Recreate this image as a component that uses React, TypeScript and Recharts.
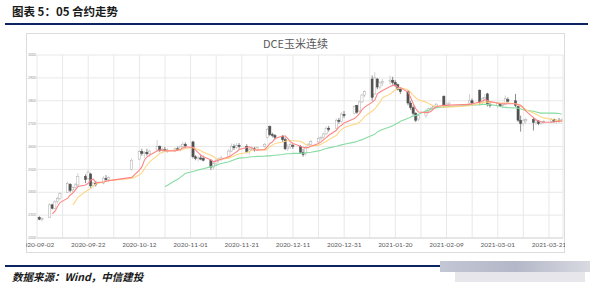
import React from 'react';
import { ComposedChart, Bar, Line, XAxis, YAxis, CartesianGrid } from 'recharts';

const N = null;

const dates = [
  "2020-09-02","2020-09-03","2020-09-04","2020-09-07","2020-09-08","2020-09-09","2020-09-10","2020-09-11","2020-09-14","2020-09-15","2020-09-16","2020-09-17","2020-09-18","2020-09-21","2020-09-22","2020-09-23","2020-09-24","2020-09-25","2020-09-28","2020-09-29","2020-09-30",
  "2020-10-09","2020-10-12","2020-10-13","2020-10-14","2020-10-15","2020-10-16","2020-10-19","2020-10-20","2020-10-21","2020-10-22","2020-10-23","2020-10-26","2020-10-27","2020-10-28","2020-10-29","2020-10-30",
  "2020-11-02","2020-11-03","2020-11-04","2020-11-05","2020-11-06","2020-11-09","2020-11-10","2020-11-11","2020-11-12","2020-11-13","2020-11-16","2020-11-17","2020-11-18","2020-11-19","2020-11-20","2020-11-23","2020-11-24","2020-11-25","2020-11-26","2020-11-27","2020-11-30",
  "2020-12-01","2020-12-02","2020-12-03","2020-12-04","2020-12-07","2020-12-08","2020-12-09","2020-12-10","2020-12-11","2020-12-14","2020-12-15","2020-12-16","2020-12-17","2020-12-18","2020-12-21","2020-12-22","2020-12-23","2020-12-24","2020-12-25","2020-12-28","2020-12-29","2020-12-30","2020-12-31",
  "2021-01-04","2021-01-05","2021-01-06","2021-01-07","2021-01-08","2021-01-11","2021-01-12","2021-01-13","2021-01-14","2021-01-15","2021-01-18","2021-01-19","2021-01-20","2021-01-21","2021-01-22","2021-01-25","2021-01-26","2021-01-27","2021-01-28","2021-01-29",
  "2021-02-01","2021-02-02","2021-02-03","2021-02-04","2021-02-05","2021-02-08","2021-02-09","2021-02-10","2021-02-18","2021-02-19","2021-02-22","2021-02-23","2021-02-24","2021-02-25","2021-02-26",
  "2021-03-01","2021-03-02","2021-03-03","2021-03-04","2021-03-05","2021-03-08","2021-03-09","2021-03-10","2021-03-11","2021-03-12","2021-03-15","2021-03-16","2021-03-17","2021-03-18","2021-03-19","2021-03-22","2021-03-23","2021-03-24","2021-03-25","2021-03-26",
];

const openP = [
  2285,2290,2282,2290,2345,2330,2360,2372,2400,2435,2410,2420,2432,2470,2460,2480,2430,2440,2440,2460,2455,
  2500,2545,2578,2570,2575,2568,2585,2600,2582,2588,2580,2585,2590,2585,2600,2610,
  2620,2555,2548,2550,2548,2540,2510,2525,2540,2545,2555,2580,2600,2595,2605,2600,2580,2588,2590,2585,2600,
  2640,2688,2652,2648,2645,2630,2590,2598,2605,2600,2575,2568,2595,2610,2620,2635,2640,2655,2680,2680,2715,2710,2740,
  2745,2780,2755,2795,2825,2895,2830,2895,2860,2878,2885,2890,2880,2870,2850,2840,2790,2770,2745,2720,
  2735,2755,2765,2768,2775,2820,2780,2785,2790,2800,2845,2795,2808,2830,2785,
  2780,2785,2780,2785,2805,2800,2775,2715,2700,2712,2718,2705,2712,2700,2708,2710,2718,2710,2715,2712,
];
const highP = [
  2292,2295,2290,2352,2350,2365,2380,2400,2446,2440,2425,2440,2483,2478,2497,2485,2445,2450,2470,2475,2470,
  2548,2584,2590,2580,2590,2585,2628,2605,2595,2598,2592,2595,2600,2605,2620,2618,
  2625,2562,2560,2565,2560,2545,2530,2545,2552,2560,2590,2613,2610,2615,2615,2610,2595,2600,2598,2600,2615,
  2680,2692,2660,2655,2650,2640,2610,2615,2612,2606,2590,2600,2615,2628,2642,2645,2660,2688,2690,2722,2725,2750,2755,
  2780,2782,2800,2830,2845,2910,2925,2900,2885,2895,2910,2905,2890,2875,2860,2845,2800,2780,2750,2740,
  2765,2770,2775,2780,2790,2823,2795,2795,2830,2810,2850,2815,2830,2835,2795,
  2795,2790,2790,2823,2815,2830,2780,2735,2720,2725,2729,2722,2715,2712,2715,2725,2722,2720,2725,2722,
];
const lowP = [
  2275,2278,2272,2288,2325,2328,2350,2365,2398,2400,2398,2410,2428,2440,2455,2417,2420,2425,2435,2448,2445,
  2495,2540,2560,2550,2560,2555,2580,2575,2570,2575,2572,2575,2580,2578,2590,2595,
  2548,2540,2535,2540,2535,2497,2500,2515,2530,2535,2550,2575,2585,2590,2590,2570,2565,2580,2578,2580,2595,
  2635,2645,2640,2630,2620,2584,2580,2590,2590,2570,2555,2560,2590,2605,2615,2625,2635,2650,2665,2675,2700,2705,2725,
  2740,2743,2750,2790,2815,2800,2825,2850,2850,2865,2870,2870,2860,2845,2830,2780,2760,2735,2707,2710,
  2725,2745,2755,2760,2765,2770,2770,2775,2785,2780,2780,2785,2800,2775,2770,
  2770,2772,2770,2780,2790,2772,2707,2665,2690,2700,2670,2695,2693,2695,2700,2702,2705,2700,2705,2704,
];
const closeP = [
  2288,2282,2285,2345,2330,2358,2372,2395,2438,2408,2420,2432,2470,2455,2488,2428,2440,2435,2462,2455,2465,
  2540,2578,2570,2575,2568,2580,2600,2582,2588,2580,2585,2590,2585,2598,2610,2602,
  2555,2548,2550,2545,2540,2510,2525,2540,2545,2550,2580,2600,2595,2605,2600,2578,2588,2592,2585,2595,2610,
  2675,2652,2648,2640,2630,2590,2598,2608,2600,2575,2565,2595,2610,2622,2635,2640,2655,2680,2675,2715,2710,2742,2735,
  2775,2750,2795,2825,2840,2815,2900,2860,2878,2885,2890,2880,2870,2850,2840,2790,2770,2745,2715,2735,
  2755,2765,2768,2775,2785,2780,2785,2790,2800,2790,2795,2808,2815,2785,2780,
  2788,2778,2785,2810,2798,2780,2715,2700,2712,2718,2705,2712,2700,2708,2710,2718,2710,2715,2712,2716,
];

const ma5 = [
  N,N,N,N,2306,2316,2338,2355,2374,2388,2396,2410,2425,2432,2439,2454,2457,2442,2445,2448,2451,
  2465,2497,2512,2541,2555,2562,2581,2584,2584,2584,2581,2581,2584,2587,2594,2599,
  2596,2584,2573,2562,2555,2541,2533,2536,2541,2544,2555,2562,2570,2577,2587,2596,2599,2594,2587,2584,2587,
  2599,2613,2620,2635,2646,2646,2635,2620,2613,2601,2596,2594,2596,2601,2613,2620,2630,2639,2649,2671,2686,2693,2703,
  2722,2732,2744,2761,2772,2794,2804,2830,2838,2845,2862,2867,2867,2859,2857,2838,2813,2787,2765,2751,
  2748,2749,2754,2765,2775,2780,2780,2781,2784,2787,2794,2799,2804,2801,2796,
  2790,2787,2787,2787,2787,2787,2784,2780,2770,2755,2726,2717,2710,2707,2706,2706,2707,2709,2710,2712,
];
const ma10 = [
  N,N,N,N,N,N,N,N,N,N,2345,2360,2378,2403,2410,2417,2428,2436,2445,2448,2451,
  2460,2475,2486,2504,2519,2533,2560,2570,2575,2580,2581,2584,2584,2584,2587,2591,
  2596,2591,2587,2581,2575,2562,2555,2548,2544,2544,2549,2554,2558,2564,2567,2574,2578,2584,2587,2587,2584,
  2588,2599,2606,2613,2620,2623,2625,2625,2625,2623,2616,2609,2604,2601,2606,2610,2616,2622,2630,2649,2664,2674,2683,
  2697,2700,2706,2717,2732,2755,2764,2780,2794,2813,2830,2838,2848,2854,2857,2848,2838,2823,2813,2804,
  2794,2787,2783,2778,2775,2772,2772,2772,2778,2780,2787,2791,2794,2794,2793,
  2791,2790,2790,2790,2790,2787,2783,2775,2768,2761,2746,2741,2735,2729,2725,2719,2716,2715,2715,2713,
];
const ma30 = [
  N,N,N,N,N,N,N,N,N,N,N,N,N,N,N,N,N,N,N,N,N,
  N,N,N,N,N,N,N,N,N,2425,2431,2451,2457,2465,2474,2483,
  2491,2494,2497,2500,2503,2512,2515,2517,2522,2526,2533,2538,2542,2546,2549,2552,2554,2555,2555,2557,2558,
  2559,2559,2561,2562,2565,2567,2568,2568,2570,2570,2571,2573,2574,2575,2581,2584,2588,2591,2594,2601,2604,2607,2610,
  2619,2622,2626,2630,2635,2649,2654,2664,2670,2674,2686,2691,2697,2703,2710,2723,2729,2733,2736,2741,
  2755,2759,2764,2767,2770,2772,2774,2775,2780,2781,2783,2784,2784,2784,2783,
  2778,2775,2772,2771,2770,2768,2767,2764,2761,2758,2754,2751,2748,2746,2746,2746,2746,2745,2744,2741,
];

const xTickLabels = ["2020-09-02","2020-09-22","2020-10-12","2020-11-01","2020-11-21","2020-12-11","2020-12-31","2021-01-20","2021-02-09","2021-03-01","2021-03-21"];
const yTicks = [2200,2300,2400,2500,2600,2700,2800,2900,3000];

const DAY = 86400000;
const BASE = Date.parse(xTickLabels[0]);
const dayOf = (s: string) => Math.round((Date.parse(s) - BASE) / DAY);

const data = dates.map((d, i) => ({
  x: dayOf(d),
  o: openP[i], h: highP[i], l: lowP[i], c: closeP[i],
  range: [lowP[i], highP[i]],
  ma5: ma5[i], ma10: ma10[i], ma30: ma30[i],
}));

const labelDays = xTickLabels.map(dayOf);
const gridDays: number[] = [];
labelDays.forEach((d, i) => {
  gridDays.push(d);
  if (i < labelDays.length - 1) gridDays.push((d + labelDays[i + 1]) / 2);
});
const labelMap: Record<number, string> = {};
labelDays.forEach((d, i) => { labelMap[d] = xTickLabels[i]; });

const Candle = (props: any) => {
  const { x, y, width, height, payload } = props;
  if (x == null || y == null || !payload) return null;
  const { o, h, l, c } = payload;
  const cx = x + width / 2;
  const span = h - l || 1;
  const py = (v: number) => y + ((h - v) / span) * height;
  const up = c >= o;
  const top = py(Math.max(o, c));
  const bot = py(Math.min(o, c));
  const bw = 2.2;
  return (
    <g>
      <line x1={cx} x2={cx} y1={y} y2={y + height} stroke={up ? '#bdbdbd' : '#5a5a5a'} strokeWidth={0.7} />
      <rect x={cx - bw / 2} y={top} width={bw} height={Math.max(bot - top, 0.7)}
        fill={up ? '#ffffff' : '#505050'} stroke={up ? '#ababab' : '#505050'} strokeWidth={0.5} />
    </g>
  );
};

export default function App() {
  return (
    <div style={{ position: 'absolute', left: 0, top: 0, width: 600, height: 294, background: '#fff', overflow: 'hidden', fontFamily: '"Noto Sans CJK SC", sans-serif' }}>
      <div style={{ position: 'absolute', left: 12, top: 3, fontSize: 11.5, fontWeight: 700, color: '#1a1a1a', whiteSpace: 'nowrap', lineHeight: '16px' }}>
        图表 5：05 合约走势
      </div>
      <div style={{ position: 'absolute', left: 5, top: 22.5, width: 583, height: 2.5, background: '#0d2463' }} />

      <div style={{ position: 'absolute', left: 26, top: 33, width: 539, height: 220, border: '1px solid #dcdcdc', boxSizing: 'border-box' }} />
      <div style={{ position: 'absolute', left: 26, top: 35, width: 539, textAlign: 'center', fontSize: 11, color: '#595959', lineHeight: '16px', whiteSpace: 'nowrap' }}>
        DCE玉米连续
      </div>

      <div style={{ position: 'absolute', left: 26, top: 33 }}>
        <ComposedChart width={539} height={220} data={data} margin={{ top: 22, right: 2, bottom: 0, left: 2 }}>
          <CartesianGrid stroke="#e8e8e8" strokeWidth={1} />
          <XAxis
            type="number"
            dataKey="x"
            domain={[0, 205.5]}
            allowDataOverflow
            ticks={gridDays}
            interval={0}
            tickFormatter={(v: number) => labelMap[v] || ''}
            tickLine={false}
            axisLine={{ stroke: '#d9d9d9' }}
            tickSize={0}
            tickMargin={4}
            height={15}
            tick={{ fontSize: 6.4, fill: '#595959', fontFamily: 'Lato, sans-serif' }}
          />
          <YAxis
            type="number"
            domain={[2200, 3000]}
            ticks={yTicks}
            allowDataOverflow
            width={9}
            tickLine={false}
            axisLine={false}
            tickSize={0}
            tickMargin={1}
            interval={0}
            tick={{ fontSize: 3.5, fill: '#9a9a9a', fontFamily: 'Lato, sans-serif' }}
          />
          <Bar dataKey="range" barSize={3} shape={<Candle />} isAnimationActive={false} />
          <Line type="linear" dataKey="ma30" stroke="#86dca2" strokeWidth={1.1} dot={false} isAnimationActive={false} />
          <Line type="linear" dataKey="ma10" stroke="#ffd685" strokeWidth={1.1} dot={false} isAnimationActive={false} />
          <Line type="linear" dataKey="ma5" stroke="#ff8585" strokeWidth={1.1} dot={false} isAnimationActive={false} />
        </ComposedChart>
      </div>

      <div style={{ position: 'absolute', left: 5, top: 264.5, width: 435, height: 2.5, background: '#0d2463' }} />
      <div style={{ position: 'absolute', left: 440, top: 261, width: 150, height: 11, background: 'linear-gradient(90deg, rgba(170,175,195,0.7), rgba(160,165,185,0.8) 50%, rgba(190,192,205,0.6))' }} />
      <div style={{ position: 'absolute', left: 455, top: 272, width: 130, height: 10, background: 'rgba(215,215,222,0.6)' }} />

      <div style={{ position: 'absolute', left: 12, top: 269, fontSize: 10.5, fontWeight: 700, fontStyle: 'italic', color: '#1a1a1a', whiteSpace: 'nowrap', lineHeight: '16px' }}>
        数据来源：Wind，中信建投
      </div>
    </div>
  );
}
